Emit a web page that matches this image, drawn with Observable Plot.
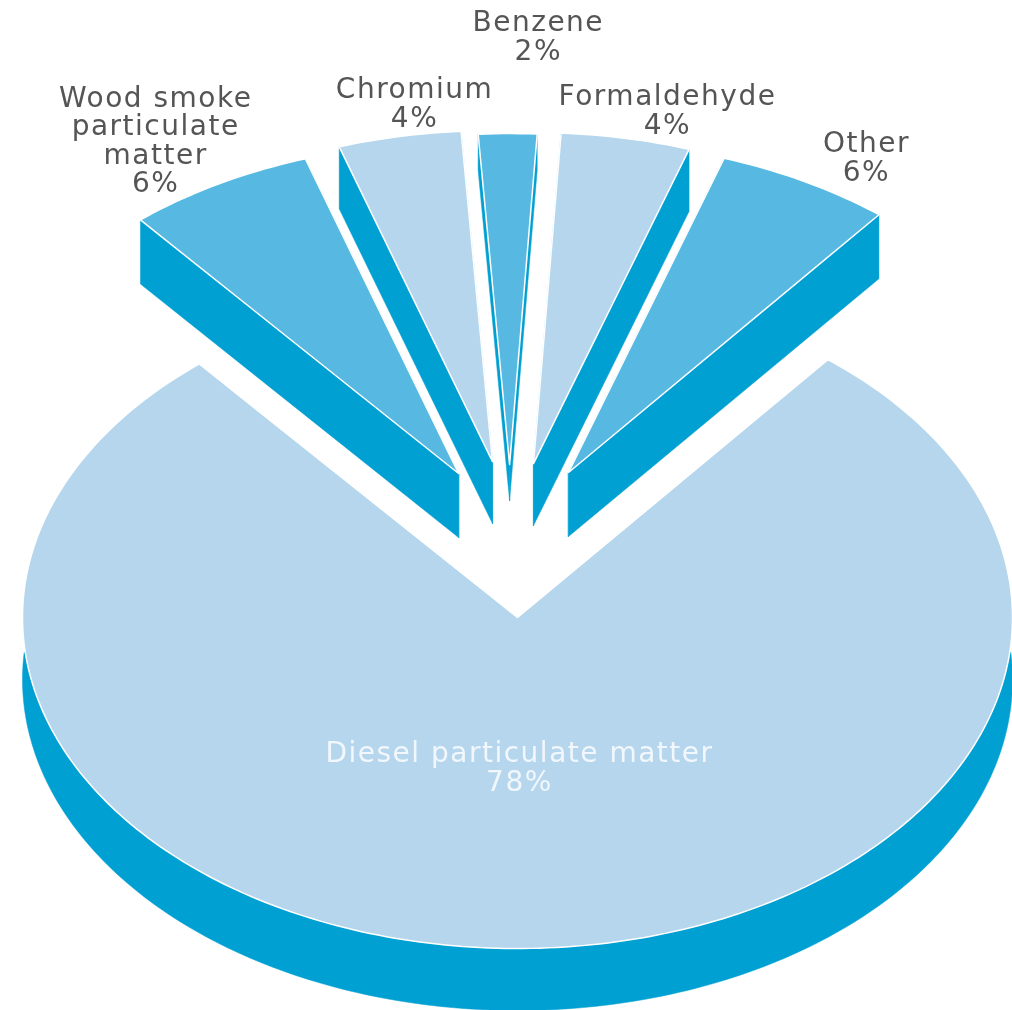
<!DOCTYPE html>
<html>
<head>
<meta charset="utf-8">
<script src="https://cdn.jsdelivr.net/npm/d3@7"></script>
<script src="https://cdn.jsdelivr.net/npm/@observablehq/plot@0.6"></script>
<style>
  html, body { margin: 0; padding: 0; background: #fff; }
  svg { display: block; }
</style>
</head>
<body>
<div id="chart"></div>
<script>
// Data (slice sizes estimated; labels show them rounded)
const categories = ["Diesel particulate matter", "Wood smoke particulate matter", "Chromium", "Benzene", "Formaldehyde", "Other"];
const shares = [78.1, 6.1, 4.0, 1.9, 4.2, 5.7];

// Label wrapping
const labelLines = [
  ["Diesel particulate matter"],
  ["Wood smoke", "particulate", "matter"],
  ["Chromium"], ["Benzene"], ["Formaldehyde"], ["Other"]
];

// Style
const topColors = ["#B5D6EC", "#57B9E2", "#B5D6EC", "#57B9E2", "#B5D6EC", "#57B9E2"];
const sideColor = "#00A0D2";
const labelColors = ["#F1F7FC", "#555555", "#555555", "#555555", "#555555", "#555555"];

// Layout, in pie units (radius = 1)
const width = 1012, height = 1010, rx = 495, ry = 331, cx = 517, cy = 617;
const startAngle = -40 * Math.PI / 180;
const explodeX = [0, -0.119, -0.0505, -0.016, 0.0323, 0.103];
const explodeY = [0, 0.435, 0.471, 0.462, 0.465, 0.438];
const sideDepth = [62, 64, 62, 36, 62, 64].map(d => d / ry);
const rimTip = 35 / ry;
const labelX = [0.004, -0.731, -0.208, 0.042, 0.303, 0.705];
const labelY = [-0.453, 1.441, 1.553, 1.755, 1.532, 1.391];

// Geometry derived from the shares
const total = d3.sum(shares);
const toAngle = s => s / total * 2 * Math.PI;
const smallSum = d3.sum(shares.slice(1));
let cursor = startAngle;
const arc = (ox, oy, a0, a1) => {
  const n = Math.max(2, Math.ceil((a1 - a0) / (Math.PI / 180)));
  return d3.range(n + 1).map(k => {
    const a = a0 + (a1 - a0) * k / n;
    return {x: ox + Math.sin(a), y: oy + Math.cos(a)};
  });
};

const slices = categories.map((name, i) => {
  let a0, a1;
  if (i === 0) {
    a0 = startAngle + toAngle(smallSum);
    a1 = startAngle + 2 * Math.PI;
  } else {
    a0 = cursor;
    a1 = cursor + toAngle(shares[i]);
    cursor = a1;
  }
  const apex = {x: explodeX[i], y: explodeY[i]};
  const rim = arc(apex.x, apex.y, a0, a1);
  return {name, i, apex, rim, outline: [apex, ...rim]};
});

const tops = slices.flatMap(s => s.outline.map(p => ({...p, id: "top" + s.i, fill: topColors[s.i]})));

// Rim band of the large slice: starts in a sharp tip a little below the pie's widest point
const upperA = Math.acos(-rimTip), lowerA = Math.acos(sideDepth[0] - rimTip);
const band = [
  ...arc(0, -sideDepth[0], lowerA, 2 * Math.PI - lowerA),
  ...arc(0, 0, upperA, 2 * Math.PI - upperA).reverse()
].map(p => ({...p, id: "band"}));

// Visible cut faces of the exploded slices
const cuts = slices.slice(1).flatMap(s => {
  const d = sideDepth[s.i];
  return [s.rim[0], s.rim[s.rim.length - 1]].flatMap((c, k) => [
    {x: s.apex.x, y: s.apex.y},
    {x: c.x, y: c.y},
    {x: c.x, y: c.y - d},
    {x: s.apex.x, y: s.apex.y - d}
  ].map(p => ({...p, id: `cut${s.i}-${k}`})));
});

const labels = categories.map((name, i) => ({
  x: labelX[i],
  y: labelY[i],
  text: [...labelLines[i], Math.round(shares[i]) + "%"].join("\n"),
  fill: labelColors[i]
}));

const chart = Plot.plot({
  width, height,
  margin: 0,
  style: {background: "#fff", fontFamily: "'DejaVu Sans'", letterSpacing: "1.5px", filter: "blur(0.6px)"},
  x: {axis: null, domain: [-cx / rx, (width - cx) / rx], range: [0, width]},
  y: {axis: null, domain: [cy / ry, (cy - height) / ry], range: [0, height]},
  marks: [
    Plot.line([...band, ...cuts], {x: "x", y: "y", z: "id", fill: sideColor, stroke: sideColor, strokeWidth: 0.5, curve: "linear-closed"}),
    Plot.line(tops, {x: "x", y: "y", z: "id", fill: "fill", stroke: "#fff", strokeWidth: 1.5, curve: "linear-closed"}),
    Plot.text(labels, {x: "x", y: "y", text: "text", fill: "fill", fontSize: 28, lineHeight: 1.02, textAnchor: "middle", lineAnchor: "middle"})
  ]
});
document.getElementById("chart").append(chart);
</script>
</body>
</html>
